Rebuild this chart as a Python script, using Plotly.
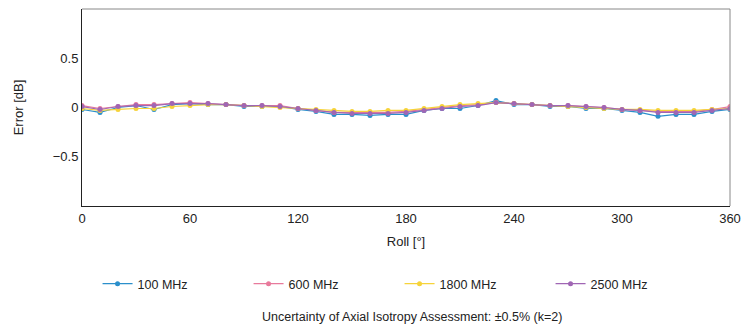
import plotly.graph_objects as go

# Roll angle in degrees, one measurement every 10 degrees
roll = list(range(0, 361, 10))

err_100 = [-0.02, -0.05, 0.00, 0.02, -0.02, 0.03, 0.04, 0.03, 0.03, 0.01,
           0.01, 0.01, -0.02, -0.04, -0.07, -0.07, -0.08, -0.07, -0.07, -0.03,
           -0.01, -0.01, 0.02, 0.07, 0.03, 0.03, 0.01, 0.01, -0.01, -0.01,
           -0.03, -0.05, -0.09, -0.07, -0.07, -0.04, -0.02]
err_600 = [0.02, -0.01, 0.01, 0.03, 0.03, 0.04, 0.05, 0.04, 0.03, 0.02,
           0.02, 0.02, -0.01, -0.03, -0.05, -0.05, -0.05, -0.05, -0.04, -0.02,
           0.00, 0.02, 0.03, 0.05, 0.04, 0.03, 0.02, 0.02, 0.01, 0.00,
           -0.02, -0.03, -0.04, -0.04, -0.04, -0.02, 0.01]
err_1800 = [-0.01, -0.03, -0.02, -0.01, -0.01, 0.01, 0.02, 0.03, 0.03, 0.02,
            0.01, 0.00, -0.01, -0.02, -0.03, -0.04, -0.04, -0.03, -0.03, -0.01,
            0.01, 0.03, 0.04, 0.05, 0.04, 0.03, 0.02, 0.01, 0.00, -0.01,
            -0.02, -0.02, -0.03, -0.03, -0.03, -0.02, -0.01]
err_2500 = [0.01, -0.02, 0.01, 0.02, 0.02, 0.04, 0.04, 0.04, 0.03, 0.02,
            0.02, 0.01, -0.01, -0.03, -0.05, -0.06, -0.06, -0.06, -0.05, -0.03,
            -0.01, 0.01, 0.02, 0.05, 0.04, 0.03, 0.02, 0.02, 0.01, 0.00,
            -0.02, -0.03, -0.05, -0.05, -0.05, -0.03, -0.01]

series = [
    ("100 MHz", err_100, "#2b8fcb"),
    ("600 MHz", err_600, "#e87a9c"),
    ("1800 MHz", err_1800, "#f6d33a"),
    ("2500 MHz", err_2500, "#a066b4"),
]

x_ticks = [0, 60, 120, 180, 240, 300, 360]
y_ticks = [-0.5, 0, 0.5]
y_tick_text = ["\u22120.5", "0", "0.5"]

fig = go.Figure()
for name, vals, color in series:
    fig.add_trace(go.Scatter(
        x=roll, y=vals, name=name, mode="lines+markers",
        line=dict(color=color, width=1.2),
        marker=dict(color=color, size=5),
    ))

font_family = "Liberation Sans, Arial, sans-serif"

fig.update_layout(
    width=750, height=331,
    margin=dict(l=82, r=17, t=9, b=125),
    paper_bgcolor="white", plot_bgcolor="white",
    font=dict(family=font_family, size=13, color="#222"),
    showlegend=True,
    legend=dict(
        orientation="h", x=0.024, y=-0.32, xanchor="left", yanchor="top",
        entrywidth=106, entrywidthmode="pixels",
        font=dict(size=12.5), itemwidth=30,
    ),
    annotations=[dict(
        text="Uncertainty of Axial Isotropy Assessment: \u00b10.5% (k=2)",
        x=0.51, y=-0.565, xref="paper", yref="paper",
        xanchor="center", yanchor="middle", showarrow=False,
        font=dict(size=12.5),
    )],
)

fig.update_xaxes(
    range=[0, 360], tickvals=x_ticks, ticktext=[str(t) for t in x_ticks],
    showgrid=False, zeroline=False, showline=True, linecolor="#222",
    linewidth=1, mirror=False, ticks="",
    title=dict(text="Roll [\u00b0]", standoff=12, font=dict(size=13)),
)
fig.update_yaxes(
    range=[-1, 1], tickvals=y_ticks, ticktext=y_tick_text,
    showgrid=False, zeroline=False, showline=True, linecolor="#222",
    linewidth=1, ticks="",
    title=dict(text="Error [dB]", standoff=26, font=dict(size=13)),
)

# Thin grey frame on the top and right edges of the plot area
fig.add_shape(type="line", xref="paper", yref="paper", x0=0, x1=1, y0=1, y1=1,
              line=dict(color="#888", width=1))
fig.add_shape(type="line", xref="paper", yref="paper", x0=1, x1=1, y0=0, y1=1,
              line=dict(color="#888", width=1))

fig.write_html("out.html")
